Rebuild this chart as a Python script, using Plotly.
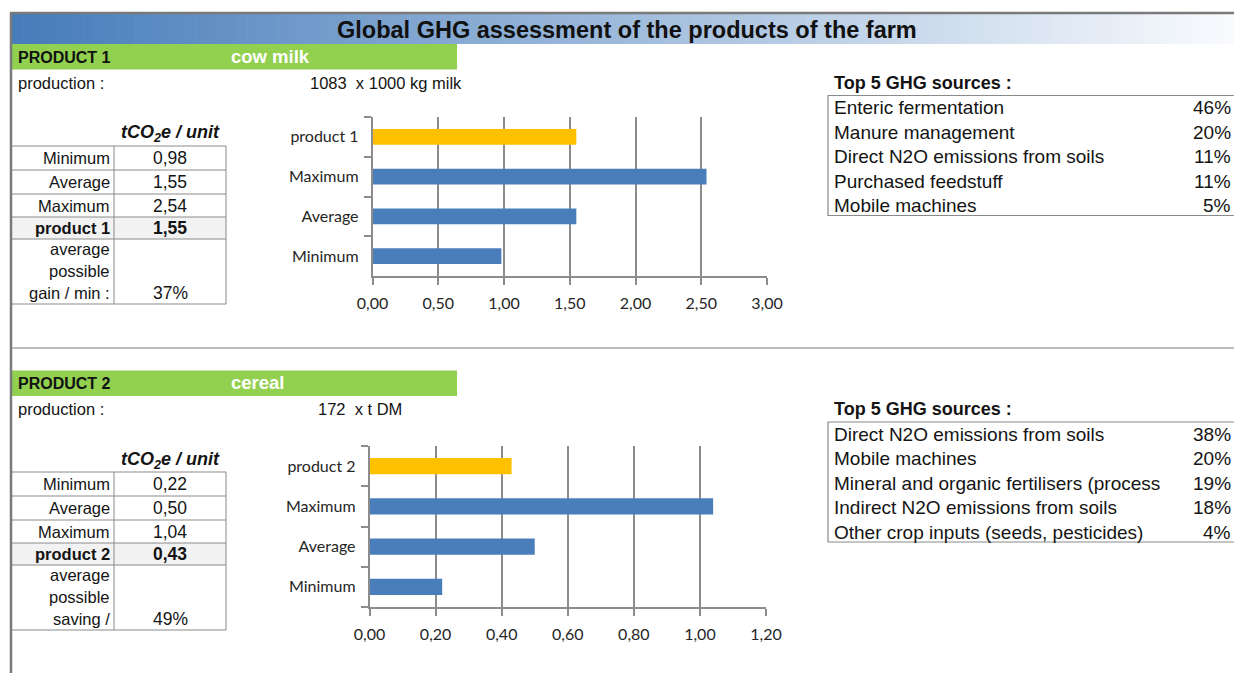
import plotly.graph_objects as go

W, H = 1234, 673

title_text = "Global GHG assessment of the products of the farm"

# ---------------- data ----------------
p1_label = "PRODUCT 1"
p1_name = "cow milk"
p1_production = "1083  x 1000 kg milk"
p1_categories = ["Minimum", "Average", "Maximum", "product 1"]
p1_values = [0.98, 1.55, 2.54, 1.55]
p1_gain_lines = ["average", "possible", "gain / min :"]
p1_gain = "37%"
p1_sources = ["Enteric fermentation", "Manure management", "Direct N2O emissions from soils",
              "Purchased feedstuff", "Mobile machines"]
p1_shares = ["46%", "20%", "11%", "11%", "5%"]
p1_xmax, p1_dtick = 3.0, 0.5

p2_label = "PRODUCT 2"
p2_name = "cereal"
p2_production = "172  x t DM"
p2_categories = ["Minimum", "Average", "Maximum", "product 2"]
p2_values = [0.22, 0.50, 1.04, 0.43]
p2_gain_lines = ["average", "possible", "saving /"]
p2_gain = "49%"
p2_sources = ["Direct N2O emissions from soils", "Mobile machines",
              "Mineral and organic fertilisers (process", "Indirect N2O emissions from soils",
              "Other crop inputs (seeds, pesticides)"]
p2_shares = ["38%", "20%", "19%", "18%", "4%"]
p2_xmax, p2_dtick = 1.2, 0.2

BLUE = "#4a7ebb"
ORANGE = "#ffc000"
GREEN = "#92d050"
GRID = "#8c8c8c"
TBL = "#8a8a8a"
TXT = "#141414"
ARIAL = "Liberation Sans, Arial, sans-serif"


def X(px):
    return px / W


def Y(py):
    return 1 - py / H


shapes = []
annotations = []


def line(x0, y0, x1, y1, color=TBL, width=1.0):
    shapes.append(dict(type="line", xref="paper", yref="paper", x0=X(x0), y0=Y(y0), x1=X(x1), y1=Y(y1),
                       line=dict(color=color, width=width), layer="above"))


def rect(x0, y0, x1, y1, fill, lcolor=None, lwidth=0, layer="below"):
    shapes.append(dict(type="rect", xref="paper", yref="paper", x0=X(x0), y0=Y(y0), x1=X(x1), y1=Y(y1),
                       fillcolor=fill, line=dict(color=lcolor or fill, width=lwidth), layer=layer))


def txt(x, y, s, size=14, anchor="left", color=TXT, family=ARIAL):
    annotations.append(dict(xref="paper", yref="paper", x=X(x), y=Y(y), text=s, showarrow=False,
                            xanchor=anchor, yanchor="middle", align=anchor,
                            font=dict(size=size, color=color, family=family)))


def fmt(v):
    return f"{v:.2f}".replace(".", ",")


# ---------------- frame & title ----------------
N = 120
x_start, x_end = 12, 1234
c0 = (70, 124, 186)
c1 = (248, 250, 253)
for i in range(N):
    t = i / (N - 1)
    col = tuple(int(round(c0[k] + (c1[k] - c0[k]) * t)) for k in range(3))
    xa = x_start + (x_end - x_start) * i / N
    xb = x_start + (x_end - x_start) * (i + 1) / N + 0.6
    rect(xa, 14, xb, 44, "rgb(%d,%d,%d)" % col)
line(10, 13, 1234, 13, "#7a7a7a", 2.5)
line(11, 13, 11, 673, "#7a7a7a", 2.5)
txt(627, 30, "<b>" + title_text + "</b>", 23.5, "center", "#111111")

# separator between products
line(12, 348, 1234, 348, "#a6a6a6", 1.5)


def product_block(top, label, name, production, prod_x, vals_cats, vals, gain_lines, gain,
                  sources, shares, src_top, table_top):
    # green banner
    rect(12, top, 457, top + 25.5, GREEN)
    txt(16, top + 13, "<b>" + label + "</b>", 16, "left", "#111111")
    txt(229, top + 12, "<b>" + name + "</b>", 18.5, "left", "#ffffff")
    # production
    txt(16, top + 39, "production :", 16.5, "left")
    txt(prod_x, top + 39, production, 16.5, "left")
    # table
    t0 = table_top
    rows = [t0, t0 + 24, t0 + 48, t0 + 71, t0 + 93, t0 + 158]
    txt(170, t0 - 12, "<b><i>tCO<sub>2</sub>e / unit</i></b>", 18, "center")
    rect(12, rows[3], 226, rows[4], "#f2f2f2")
    for r in rows:
        line(12, r, 226, r)
    line(114, rows[0], 114, rows[-1])
    line(226, rows[0], 226, rows[-1])
    for i, lab in enumerate(vals_cats):
        yc = (rows[i] + rows[i + 1]) / 2
        v = fmt(vals[i])
        if i == len(vals_cats) - 1:
            lab, v = "<b>" + lab + "</b>", "<b>" + v + "</b>"
        txt(112, yc, lab, 16.5, "right")
        txt(170, yc, v, 17.5, "center")
    for j, g in enumerate(gain_lines):
        txt(112, rows[4] + 10 + j * 22, g, 16.5, "right")
    txt(170, rows[4] + 10 + 2 * 22, gain, 17.5, "center")
    # top 5 sources
    txt(832, src_top - 13, "<b>Top 5 GHG sources :</b>", 18, "left")
    rect(828, src_top, 1240, src_top + 120, "rgba(0,0,0,0)", TBL, 1.2, "above")
    for k, (s, p) in enumerate(zip(sources, shares)):
        yc = src_top + 12.5 + k * 24.4
        txt(832, yc, s, 19, "left")
        txt(1233, yc, p, 19, "right")


product_block(44, p1_label, p1_name, p1_production, 308, p1_categories, p1_values,
              p1_gain_lines, p1_gain, p1_sources, p1_shares, 95.5, 146)
product_block(370.5, p2_label, p2_name, p2_production, 316, p2_categories, p2_values,
              p2_gain_lines, p2_gain, p2_sources, p2_shares, 422, 472)

# ---------------- charts ----------------
fig = go.Figure()
fig.add_trace(go.Bar(x=p1_values, y=p1_categories, orientation="h",
                     marker=dict(color=[BLUE] * (len(p1_values) - 1) + [ORANGE], line=dict(width=0)),
                     xaxis="x", yaxis="y", showlegend=False, hoverinfo="x+y"))
fig.add_trace(go.Bar(x=p2_values, y=p2_categories, orientation="h",
                     marker=dict(color=[BLUE] * (len(p2_values) - 1) + [ORANGE], line=dict(width=0)),
                     xaxis="x2", yaxis="y2", showlegend=False, hoverinfo="x+y"))

tickfont = dict(family="Lato, Carlito, sans-serif", size=16, color="#262626")


def xax(dom, xmax, dtick, anchor):
    return dict(domain=dom, range=[0, xmax], dtick=dtick, tick0=0, tickformat=".2f",
                showgrid=True, gridcolor=GRID, gridwidth=1.5, zeroline=False,
                showline=True, linecolor=GRID, linewidth=1.5, ticks="outside", ticklen=7,
                tickcolor=GRID, tickwidth=1.5, tickfont=tickfont, ticklabelstandoff=5,
                anchor=anchor, fixedrange=True, automargin=False)


def yax(dom, cats, anchor):
    return dict(domain=dom, type="category", categoryorder="array", categoryarray=cats,
                showgrid=False, zeroline=False, showline=True, linecolor=GRID, linewidth=1.5,
                ticks="outside", ticklen=7, tickcolor=GRID, tickwidth=1.5, tickson="boundaries",
                tickfont=tickfont, ticklabelstandoff=9, anchor=anchor, fixedrange=True,
                automargin=False)


fig.update_layout(
    width=W, height=H, autosize=False,
    margin=dict(l=0, r=0, t=0, b=0, pad=0, autoexpand=False),
    paper_bgcolor="white", plot_bgcolor="rgba(0,0,0,0)",
    separators=", ",
    bargap=0.6,
    xaxis=xax([X(372.5), X(767)], p1_xmax, p1_dtick, "y"),
    yaxis=yax([Y(276), Y(117)], p1_categories, "x"),
    xaxis2=xax([X(369.5), X(766)], p2_xmax, p2_dtick, "y2"),
    yaxis2=yax([Y(607), Y(446)], p2_categories, "x2"),
    shapes=shapes,
    annotations=annotations,
    font=dict(family=ARIAL),
)

fig.write_html("out.html", config={"responsive": False},
               post_script="document.body.style.margin='0';document.body.style.overflow='hidden';")
